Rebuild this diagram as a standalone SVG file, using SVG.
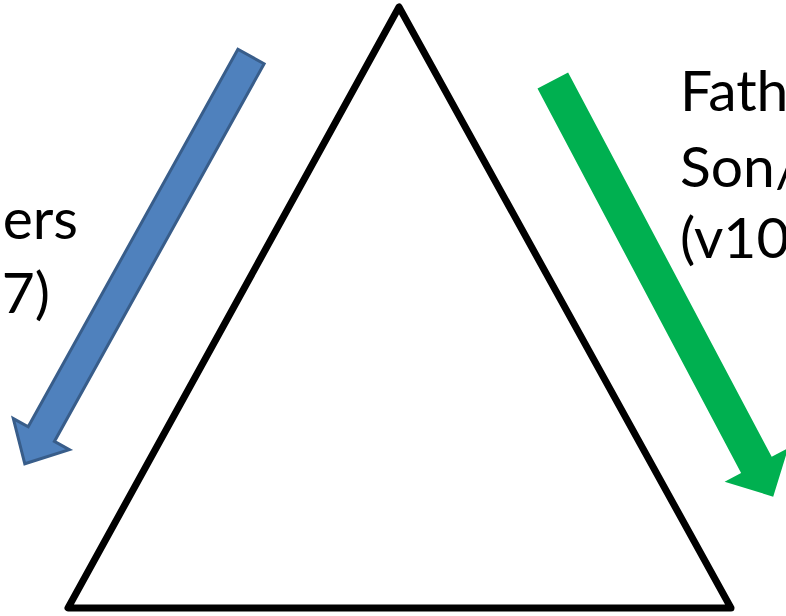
<svg xmlns="http://www.w3.org/2000/svg" width="786" height="616" viewBox="0 0 786 616">
<style>
.lbl{font-family:Lato,"Open Sans","Liberation Sans",sans-serif;font-size:57px;fill:#000}
</style>
<rect width="786" height="616" fill="#fff"/>
<g id="triangle">
<polygon points="399,7 68,608 731,608" fill="none" stroke="#000" stroke-width="7" stroke-linejoin="round"/>
</g>
<g id="connectors">
<polygon id="blue-arrow" points="264.1,63.8 237.9,49.2 28.2,426.8 13.3,418.6 24.8,463.8 69.3,449.6 54.4,441.4" fill="#4F81BD" stroke="#385D8A" stroke-width="3" stroke-linejoin="miter"/>
<polygon id="green-arrow" points="568.1,72.4 537.5,88.6 741.1,473.0 724.6,481.7 773.2,496.7 788.2,448.1 771.7,456.8" fill="#00B050"/>
</g>
<g id="left-label">
<text class="lbl" x="78" y="239" text-anchor="end">ers</text>
<text class="lbl" x="50" y="313" text-anchor="end">.7)</text>
</g>
<g id="right-label">
<text class="lbl" x="680" y="111">Fath</text>
<text class="lbl" x="680" y="187">Son/</text>
<text class="lbl" x="680" y="258">(v10</text>
</g>
</svg>
